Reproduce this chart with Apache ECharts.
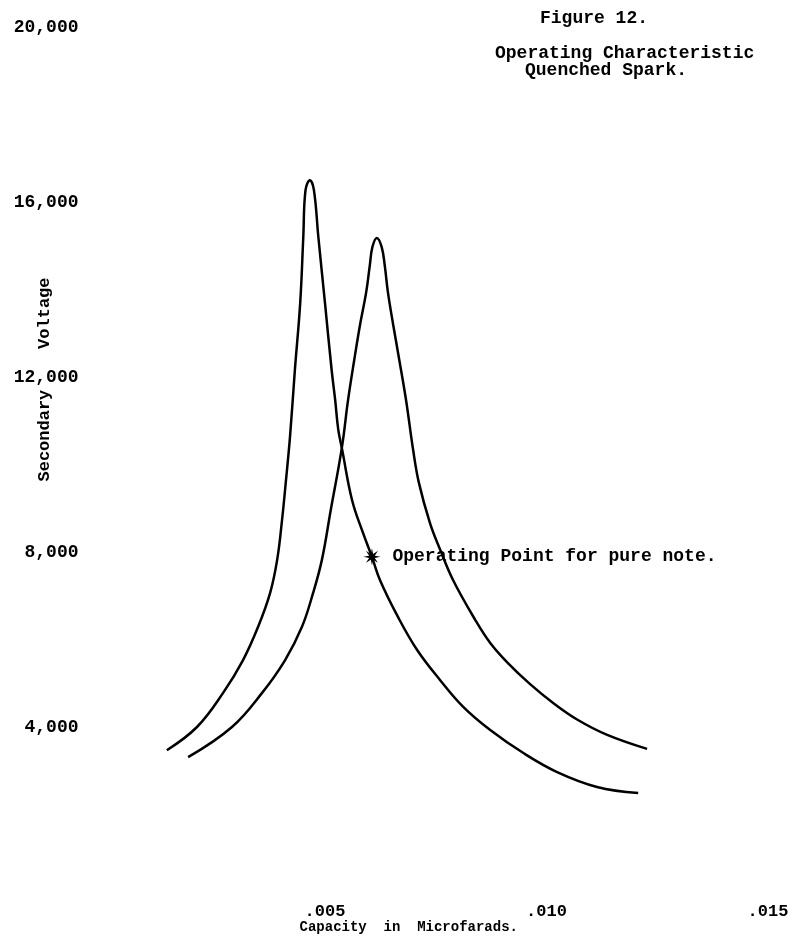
<!DOCTYPE html>
<html>
<head>
<meta charset="utf-8">
<script src="https://cdn.jsdelivr.net/npm/echarts@6/dist/echarts.min.js"></script>
<style>
  html, body { margin: 0; padding: 0; background: #fff; }
  #chart { width: 799px; height: 944px; }
</style>
</head>
<body>
<div id="chart"></div>
<script>
// 曲线数据 (电容 µF, 次级电压 V)
const capacityA = [0.00143, 0.00211, 0.00270, 0.00315, 0.00349, 0.00376, 0.00392, 0.00403, 0.00412, 0.00421, 0.00432, 0.00444, 0.00451, 0.00456, 0.00466, 0.00475, 0.00485, 0.00500, 0.00515, 0.00523, 0.00530, 0.00538, 0.00561, 0.00586, 0.00606, 0.00624, 0.00665, 0.00708, 0.00760, 0.00812, 0.00873, 0.00947, 0.01024, 0.01114, 0.01207]
const voltageA = [3470, 4000, 4780, 5530, 6290, 7060, 7820, 8730, 9650, 10630, 12160, 13690, 15200, 16270, 16500, 16270, 15200, 13690, 12160, 11470, 10790, 10380, 9190, 8430, 7890, 7360, 6510, 5760, 5070, 4460, 3930, 3410, 2970, 2630, 2490]

const capacityB = [0.00191, 0.00290, 0.00358, 0.00410, 0.00448, 0.00473, 0.00493, 0.00513, 0.00538, 0.00552, 0.00566, 0.00579, 0.00593, 0.00601, 0.00607, 0.00617, 0.00628, 0.00635, 0.00642, 0.00654, 0.00667, 0.00683, 0.00699, 0.00712, 0.00737, 0.00760, 0.00789, 0.00839, 0.00873, 0.00913, 0.00963, 0.01015, 0.01071, 0.01137, 0.01227]
const voltageB = [3310, 4000, 4780, 5530, 6290, 7060, 7820, 8960, 10380, 11470, 12390, 13190, 13940, 14540, 14970, 15180, 14970, 14540, 13940, 13190, 12430, 11470, 10330, 9580, 8660, 8050, 7360, 6450, 5920, 5460, 4980, 4550, 4160, 3820, 3500]

// 工作点
const operatingPoint = [0.00606, 7890]
const operatingLabel = 'Operating Point for pure note.'

// 刻度
const xTicks = [0.005, 0.010, 0.015]
const yTicks = [4000, 8000, 12000, 16000, 20000]

const FONT = '"Liberation Mono", "DejaVu Sans Mono", monospace'
const INK = '#000'

const zip = (xs, ys) => xs.map((x, i) => [x, ys[i]])

// 星号符号
const starPath = (function () {
  const pts = []
  for (let i = 0; i < 16; i++) {
    const r = i % 2 === 0 ? 10 : 3.6
    const a = (Math.PI / 8) * i
    pts.push((10 + r * Math.cos(a)).toFixed(2) + ' ' + (10 + r * Math.sin(a)).toFixed(2))
  }
  return 'path://M' + pts.join(' L') + ' Z'
})()

const chart = echarts.init(document.getElementById('chart'))

const option = {
  backgroundColor: '#fff',
  animation: false,
  grid: { left: 103.5, right: 31, top: 27, bottom: 42, outerBoundsMode: 'none', containLabel: false },
  xAxis: {
    type: 'value',
    min: 0,
    max: 0.015,
    interval: 0.005,
    name: 'Capacity  in  Microfarads.',
    nameLocation: 'middle',
    nameGap: 18,
    nameMoveOverlap: false,
    nameTextStyle: { fontFamily: FONT, fontSize: 14, fontWeight: 'bold', color: INK, padding: [0, 54, 0, 0] },
    axisLine: { show: false },
    axisTick: { show: false },
    splitLine: { show: false },
    axisLabel: {
      margin: 1,
      fontFamily: FONT,
      fontSize: 17,
      fontWeight: 'bold',
      color: INK,
      formatter: v => {
        const hit = xTicks.find(t => Math.abs(t - v) < 1e-9)
        return hit ? '.' + String(Math.round(hit * 1000)).padStart(3, '0') : ''
      }
    }
  },
  yAxis: {
    type: 'value',
    min: 0,
    max: 20000,
    interval: 4000,
    name: 'Secondary    Voltage',
    nameLocation: 'middle',
    nameRotate: 90,
    nameGap: 50,
    nameMoveOverlap: false,
    nameTextStyle: { fontFamily: FONT, fontSize: 17, fontWeight: 'bold', color: INK, padding: [0, 0, 0, 170] },
    axisLine: { show: false },
    axisTick: { show: false },
    splitLine: { show: false },
    axisLabel: {
      margin: 25,
      fontFamily: FONT,
      fontSize: 18,
      fontWeight: 'bold',
      color: INK,
      formatter: v => yTicks.includes(v) ? v.toLocaleString('en-US') : ''
    }
  },
  graphic: [
    { type: 'text', left: 540, top: 9, style: { text: 'Figure 12.', font: 'bold 18px ' + FONT, fill: INK } },
    { type: 'text', left: 495, top: 44, style: { text: 'Operating Characteristic', font: 'bold 18px ' + FONT, fill: INK } },
    { type: 'text', left: 525, top: 61, style: { text: 'Quenched Spark.', font: 'bold 18px ' + FONT, fill: INK } }
  ],
  series: [
    {
      name: 'Curve A',
      type: 'line',
      data: zip(capacityA, voltageA),
      smooth: 0.4,
      showSymbol: false,
      lineStyle: { color: '#000', width: 2.5 }
    },
    {
      name: 'Curve B',
      type: 'line',
      data: zip(capacityB, voltageB),
      smooth: 0.4,
      showSymbol: false,
      lineStyle: { color: '#000', width: 2.5 }
    },
    {
      name: 'Operating Point',
      type: 'scatter',
      data: [operatingPoint],
      symbol: starPath,
      symbolSize: 17,
      itemStyle: { color: '#000', opacity: 1 },
      label: {
        show: true,
        position: 'right',
        distance: 12,
        formatter: operatingLabel,
        fontFamily: FONT,
        fontSize: 18,
        fontWeight: 'bold',
        color: '#000',
        textBorderWidth: 0
      },
      z: 5
    }
  ]
}

chart.setOption(option)
</script>
</body>
</html>
